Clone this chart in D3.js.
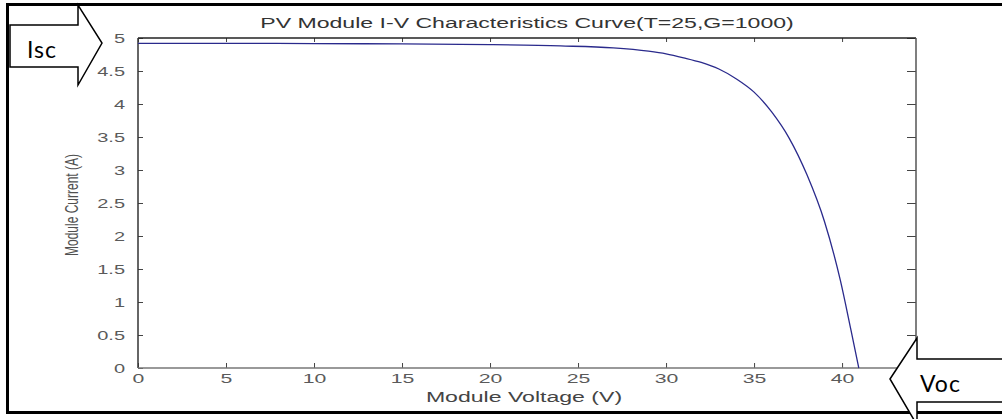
<!DOCTYPE html>
<html lang='en'>
  <head>
    <meta charset='utf-8'>
    <title>PV Module I-V Characteristics Curve</title>
    <script src="https://d3js.org/d3.v7.min.js" charset='utf-8'></script>
    <style type="text/css">
      body { margin: 0; background: #fff; }
      svg { display: block; }
      .axis path { display: none; }
      .axis line { stroke: #444; stroke-width: 1px; }
      .axis text {
        font-family: 'Liberation Sans', Arial, sans-serif;
        font-size: 12.5px;
        fill: #5a5a5a;
      }
      .title, .xlabel, .ylabel {
        font-family: 'Liberation Sans', Arial, sans-serif;
        text-anchor: middle;
      }
      .title { font-size: 14px; fill: #333; }
      .xlabel { font-size: 14px; fill: #444; }
      .ylabel { font-size: 12px; fill: #505050; }
      .arrow { fill: #fff; stroke: #000; stroke-width: 1.5px; }
      .note {
        font-family: Lato, 'Open Sans', sans-serif;
        font-size: 23px;
        letter-spacing: 1px;
        fill: #000;
      }
    </style>
  </head>
  <body>
    <script type="text/javascript">
      var width = 1002, height = 419;

      // values
      var voltage = [0, 5, 10, 15, 20, 24, 27, 29, 30, 31, 32, 33, 34, 35, 36, 37, 38, 39, 39.9, 40.5, 40.95];
      var current = [4.92, 4.92, 4.915, 4.91, 4.9, 4.88, 4.85, 4.8, 4.76, 4.7, 4.63, 4.53, 4.38, 4.18, 3.88, 3.48, 2.93, 2.22, 1.33, 0.58, 0];
      var xTicks = [0, 5, 10, 15, 20, 25, 30, 35, 40];
      var yTicks = [0, 0.5, 1, 1.5, 2, 2.5, 3, 3.5, 4, 4.5, 5];

      // the source picture is stretched sideways, so text gets widened too
      var stretch = 1.6;

      var svg = d3.select('body').append('svg')
        .attr('width', width)
        .attr('height', height);

      // plot box edges
      var boxLeft = 138, boxRight = 916, boxTop = 38, boxBottom = 368;
      var x = d3.scaleLinear().domain([0, 44.2]).range([boxLeft, boxRight]);
      var y = d3.scaleLinear().domain([0, 5]).range([boxBottom, boxTop]);

      // outer frame
      svg.append('rect')
        .attr('x', 7.5).attr('y', 4.5)
        .attr('width', 1010).attr('height', 408)
        .attr('fill', 'none').attr('stroke', '#000').attr('stroke-width', 3);

      // axes with inward ticks on all four sides
      var gx = svg.append('g').attr('class', 'axis')
        .attr('transform', 'translate(0,' + boxBottom + ')')
        .call(d3.axisBottom(x).tickValues(xTicks).tickSize(-5).tickPadding(6).tickFormat(d3.format('')));
      gx.selectAll('text').attr('transform', 'scale(1.7,1)');

      var gy = svg.append('g').attr('class', 'axis')
        .attr('transform', 'translate(' + boxLeft + ',0)')
        .call(d3.axisLeft(y).tickValues(yTicks).tickSize(-5).tickFormat(d3.format('')));
      gy.selectAll('text')
        .attr('x', -13 / stretch)
        .attr('transform', 'scale(' + stretch + ',1)');

      svg.append('g').attr('class', 'axis')
        .attr('transform', 'translate(0,' + boxTop + ')')
        .call(d3.axisTop(x).tickValues(xTicks).tickSize(-4).tickFormat(''));
      svg.append('g').attr('class', 'axis')
        .attr('transform', 'translate(' + boxRight + ',0)')
        .call(d3.axisRight(y).tickValues(yTicks).tickSize(-9).tickFormat(''));

      // box lines
      svg.append('line').attr('x1', boxLeft).attr('x2', boxRight).attr('y1', boxTop).attr('y2', boxTop)
        .attr('stroke', '#222').attr('stroke-width', 1.5);
      svg.append('line').attr('x1', boxLeft).attr('x2', boxLeft).attr('y1', boxTop).attr('y2', boxBottom)
        .attr('stroke', '#333').attr('stroke-width', 1.5);
      svg.append('line').attr('x1', boxLeft).attr('x2', boxRight).attr('y1', boxBottom).attr('y2', boxBottom)
        .attr('stroke', '#777').attr('stroke-width', 1.5);
      svg.append('line').attr('x1', boxRight).attr('x2', boxRight).attr('y1', boxTop).attr('y2', boxBottom)
        .attr('stroke', '#555').attr('stroke-width', 1.5);

      // I-V curve
      var line = d3.line()
        .x(function(d, i) { return x(voltage[i]); })
        .y(function(d) { return y(d); })
        .curve(d3.curveMonotoneX);
      svg.append('path')
        .datum(current)
        .attr('d', line)
        .attr('fill', 'none')
        .attr('stroke', '#2a2a8c')
        .attr('stroke-width', 1.3);

      // titles
      var midX = (boxLeft + boxRight) / 2;
      svg.append('text').attr('class', 'title')
        .attr('transform', 'translate(' + midX + ',28) scale(1.65,1)')
        .text('PV Module I-V Characteristics Curve(T=25,G=1000)');
      svg.append('text').attr('class', 'xlabel')
        .attr('transform', 'translate(' + (midX - 3) + ',402) scale(1.65,1)')
        .text('Module Voltage (V)');
      svg.append('text').attr('class', 'ylabel')
        .attr('transform', 'translate(78,205) scale(1.5,1) rotate(-90)')
        .text('Module Current (A)');

      // Isc callout arrow
      svg.append('path').attr('class', 'arrow')
        .attr('d', 'M10,25 L78,25 L78,5 L102,43 L78,85 L78,67 L10,67 Z');
      svg.append('text').attr('class', 'note')
        .attr('x', 27).attr('y', 58).text('Isc');

      // Voc callout arrow
      svg.append('path').attr('class', 'arrow')
        .attr('d', 'M890,379 L917,338 L917,359 L1010,359 L1010,402 L917,402 L917,425 Z');
      svg.append('text').attr('class', 'note')
        .attr('x', 920).attr('y', 392).text('Voc');
    </script>
  </body>
</html>
